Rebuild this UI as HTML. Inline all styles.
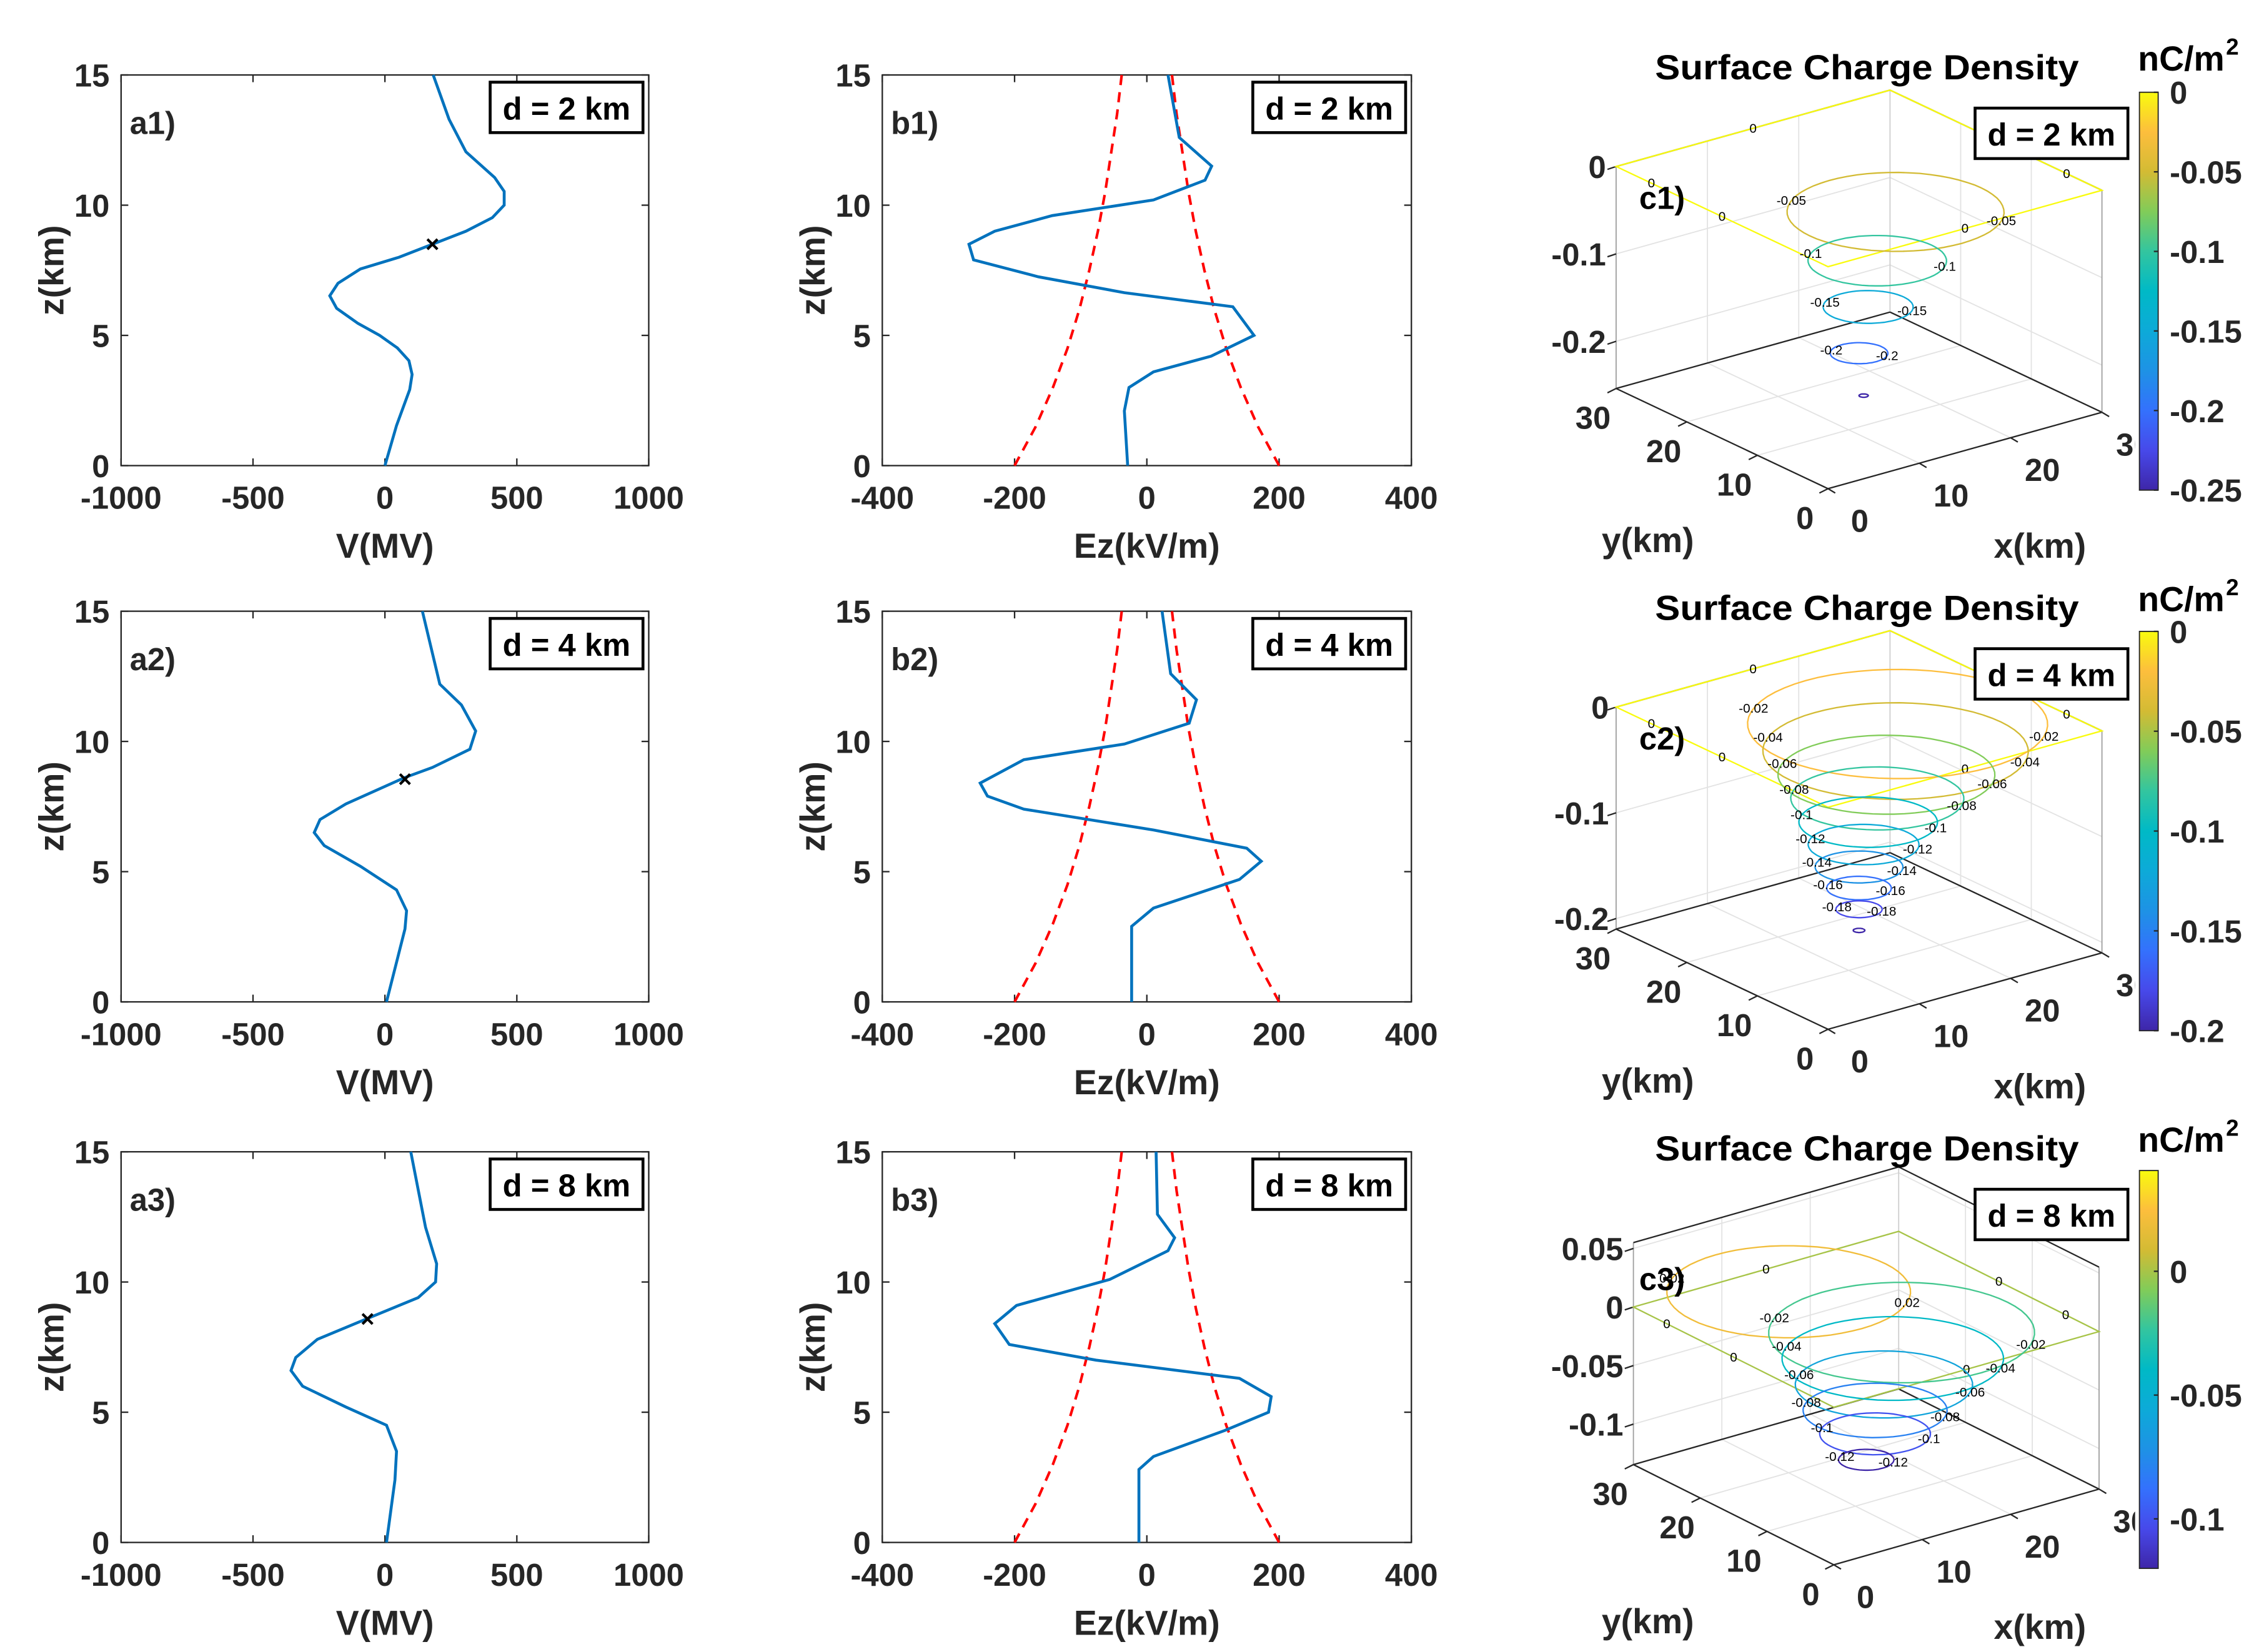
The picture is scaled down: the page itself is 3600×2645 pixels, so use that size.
<!DOCTYPE html>
<html><head><meta charset="utf-8"><style>
html,body{margin:0;padding:0;background:#fff;}
svg{display:block;}
text{font-family:"Liberation Sans",Arial,sans-serif;font-weight:bold;fill:#262626;}
</style></head><body>
<svg id="fig" width="3600" height="2645" viewBox="0 0 1560 1146" preserveAspectRatio="none" xmlns="http://www.w3.org/2000/svg">
<defs><clipPath id="cbclip"><rect x="0" y="0" width="1481" height="1146"/></clipPath></defs>
<rect x="0" y="0" width="1560" height="1146" fill="#fff"/>
</svg>
<script>
// ---------- data ----------
const a1Z=[15,13.3,12.05,11.06,10.53,10.0,9.52,9.0,8.5,8.0,7.55,7.0,6.52,6.04,5.46,5.0,4.52,4.03,3.5,2.92,1.54,0];
const a1V=[183,243,307,416,452,452,407,307,180,53,-93,-178,-209,-183,-102,-20,47,91,103,94,44,0];
const a2Z=[15,12.2,11.4,10.4,9.7,9.0,8.6,7.6,7.0,6.5,6.0,5.2,4.3,3.5,2.8,0];
const a2V=[142,208,290,344,322,180,72,-148,-246,-268,-230,-92,44,82,76,6];
const a3Z=[15,12.1,10.7,10.0,9.4,8.6,7.8,7.1,6.6,6.0,5.2,4.5,3.5,2.4,0];
const a3V=[98,154,196,192,126,-66,-256,-338,-356,-312,-148,6,44,38,6];
const markV=[180,76,-66];
const markZ=[8.5,8.55,8.58];
const b1Z=[15,12.6,11.5,10.96,10.2,9.6,9.0,8.5,7.9,7.25,6.64,6.1,5.0,4.2,3.6,3.0,2.1,0];
const b1E=[32,49,98,88,10,-143,-230,-269,-262,-164,-34,130,162,97,10,-27,-34,-29];
const b2Z=[15,12.6,11.6,10.7,9.9,9.3,8.4,7.9,7.4,6.6,5.9,5.4,4.7,3.6,2.9,0];
const b2E=[23,36,75,64,-34,-186,-252,-241,-186,10,151,173,140,10,-23,-23];
const b3Z=[15,12.6,11.7,11.2,10.1,9.1,8.4,7.6,7.0,6.3,5.6,5.0,4.3,3.3,2.8,0];
const b3E=[14,16,42,32,-56,-197,-230,-208,-77,140,188,184,118,10,-12,-12];
const redZ=[0,1.5,3,4.5,6,7.5,9,10.5,12,13.5,15];
const redE=[200,168,142,120,102,87,74,63,54,45,38];
const vTicks=[-1000,-500,0,500,1000];
const eTicks=[-400,-200,0,200,400];
const zTicks=[0,5,10,15];
const dLabels=["d = 2 km","d = 4 km","d = 8 km"];
// 3D contour data (level, radius km, centre x, centre y)
const c1Lev=[-0.05,-0.1,-0.15,-0.2,-0.25];
const c1R=[9.4,6,3.9,2.5,0.4];
const c1Cx=[19,17,16,15,15.5];
const c1Cy=[15,15,15,15,15];
const c2Lev=[-0.02,-0.04,-0.06,-0.08,-0.1,-0.12,-0.14,-0.16,-0.18,-0.2];
const c2R=[13,11.5,9.4,7.5,6,4.8,3.8,2.8,2,0.5];
const c2Cx=[20,19,18,17,16,15.5,15,15,15,15];
const c2Cy=[16,15,15,15,15,15,15,15,15,15];
const c3Lev=[0.02,-0.02,-0.04,-0.06,-0.08,-0.1,-0.12];
const c3R=[11,12,10,8,6.5,5,2.5];
const c3Cx=[10,19,18,17,16,16,15];
const c3Cy=[20,15,15,15,15,15,15];
const c1ZT=[0,-0.1,-0.2], c2ZT=[0,-0.1,-0.2], c3ZT=[0.05,0,-0.05,-0.1];
const c1CB=[0,-0.05,-0.1,-0.15,-0.2,-0.25], c2CB=[0,-0.05,-0.1,-0.15,-0.2], c3CB=[0,-0.05,-0.1];
const hTicks=[0,10,20,30];

const svg=document.getElementById('fig');
const NS='http://www.w3.org/2000/svg';
function mk(tag,attrs,parent,text){const e=document.createElementNS(NS,tag);for(const k in attrs)e.setAttribute(k,attrs[k]);if(text!==undefined)e.textContent=text;(parent||svg).appendChild(e);return e;}

function draw2D(o){
  const g=mk('g',{});
  
  
  const X=v=>o.x0+(v-o.xmin)/(o.xmax-o.xmin)*(o.x1-o.x0);
  const Y=z=>o.y1-z/15*(o.y1-o.y0);
  const box=mk('rect',{x:o.x0,y:o.y0,width:o.x1-o.x0,height:o.y1-o.y0,fill:'none',stroke:'#262626','stroke-width':1},g);
  
  
  o.xticks.forEach(t=>{
    const x=X(t);
    mk('line',{x1:x,y1:o.y1,x2:x,y2:o.y1-5,stroke:'#262626'},g);
    mk('line',{x1:x,y1:o.y0,x2:x,y2:o.y0+5,stroke:'#262626'},g);
    const tl=mk('text',{x:x,y:o.y1+30,'text-anchor':'middle','font-size':22},g,String(t));
    
    
  });
  zTicks.forEach(t=>{
    const y=Y(t);
    mk('line',{x1:o.x0,y1:y,x2:o.x0+5,y2:y,stroke:'#262626'},g);
    mk('line',{x1:o.x1,y1:y,x2:o.x1-5,y2:y,stroke:'#262626'},g);
    const tl=mk('text',{x:o.x0-8,y:y+8,'text-anchor':'end','font-size':22},g,String(t));
    
    
  });
  const xl=mk('text',{x:(o.x0+o.x1)/2,y:o.y1+64,'text-anchor':'middle','font-size':24},g,o.xlabel);
  
  
  const yx=o.x0-40, yc=(o.y0+o.y1)/2;
  const yl=mk('text',{x:yx,y:yc,'text-anchor':'middle','font-size':24,transform:'rotate(-90 '+yx+' '+yc+')'},g,'z(km)');
  
  
  const pl=mk('text',{x:o.x0+6,y:o.y0+41,'font-size':22},g,o.label);
  
  
  const lr=mk('rect',{x:o.x1-110,y:o.y0+5,width:106,height:35,fill:'#fff',stroke:'#000','stroke-width':2},g);
  
  
  const lt=mk('text',{x:o.x1-57,y:o.y0+31,'text-anchor':'middle','font-size':22,style:'fill:#000'},g,o.legend);
  
  
  return {g,X,Y};
}
function poly(p,xs,zs,attrs,name){
  const pts=xs.map((v,i)=>p.X(v).toFixed(2)+','+p.Y(zs[i]).toFixed(2)).join(' ');
  const a=Object.assign({points:pts,fill:'none'},attrs);
  const e=mk('polyline',a,p.g);
  
  
  return e;
}
const rowOff=[0,372,747];
const aV=[a1V,a2V,a3V], aZ=[a1Z,a2Z,a3Z], bE=[b1E,b2E,b3E], bZ=[b1Z,b2Z,b3Z];
for(let r=0;r<3;r++){
  const off=rowOff[r];
  const pa=draw2D({name:'a'+(r+1),x0:84,x1:450,y0:52+off,y1:323+off,xmin:-1000,xmax:1000,xticks:vTicks,xlabel:'V(MV)',label:'a'+(r+1)+')',legend:dLabels[r]});
  poly(pa,aV[r],aZ[r],{stroke:'#0072BD','stroke-width':2},'potential-line');
  const mx=pa.X(markV[r]), my=pa.Y(markZ[r]);
  const m=mk('path',{d:`M${mx-3.5},${my-3.5}L${mx+3.5},${my+3.5}M${mx-3.5},${my+3.5}L${mx+3.5},${my-3.5}`,stroke:'#000','stroke-width':1.8},pa.g);
  
  
  const pb=draw2D({name:'b'+(r+1),x0:612,x1:979,y0:52+off,y1:323+off,xmin:-400,xmax:400,xticks:eTicks,xlabel:'Ez(kV/m)',label:'b'+(r+1)+')',legend:dLabels[r]});
  poly(pb,redE,redZ,{stroke:'#FF0000','stroke-width':1.8,'stroke-dasharray':'7,5'},'threshold-positive');
  poly(pb,redE.map(v=>-v),redZ,{stroke:'#FF0000','stroke-width':1.8,'stroke-dasharray':'7,5'},'threshold-negative');
  poly(pb,bE[r],bZ[r],{stroke:'#0072BD','stroke-width':2},'field-line');
}

// ---------- parula ----------
const pStops=[[0,[62,38,168]],[0.1,[71,73,234]],[0.2,[52,113,253]],[0.3,[30,146,229]],[0.4,[13,170,216]],[0.5,[0,185,198]],[0.6,[51,197,159]],[0.7,[129,204,89]],[0.8,[211,187,52]],[0.9,[253,190,61]],[1,[249,251,14]]];
function parula(t){t=Math.max(0,Math.min(1,t));for(let i=1;i<pStops.length;i++){if(t<=pStops[i][0]){const[a,ca]=pStops[i-1],[b,cb]=pStops[i];const f=(t-a)/(b-a);return 'rgb('+ca.map((c,k)=>Math.round(c+(cb[k]-c)*f)).join(',')+')';}}return 'rgb(249,251,14)';}
const grad=mk('linearGradient',{id:'parulaGrad',x1:0,y1:1,x2:0,y2:0},svg.querySelector('defs'));
pStops.forEach(s=>mk('stop',{offset:s[0],'stop-color':'rgb('+s[1].join(',')+')'},grad));

// ---------- 3D panels ----------
const cfgs=[
 {n:'c1',off:0,Ox:1268,Oy:339,Xv:[190,-53],Yv:[-147,-69.5],H:154,zmin:-0.254,zmax:0,zt:c1ZT,lev:c1Lev,R:c1R,Cx:c1Cx,Cy:c1Cy,cmin:-0.25,cmax:0,cb:c1CB,cbTop:64,cbBot:340,zlx:1114,zeroZ:0},
 {n:'c2',off:375,Ox:1268,Oy:714,Xv:[190,-53],Yv:[-147,-69.5],H:154,zmin:-0.21,zmax:0,zt:c2ZT,lev:c2Lev,R:c2R,Cx:c2Cx,Cy:c2Cy,cmin:-0.2,cmax:0,cb:c2CB,cbTop:438,cbBot:715,zlx:1116,zeroZ:0},
 {n:'c3',off:750,Ox:1272,Oy:1085.5,Xv:[184,-52.5],Yv:[-139,-69.5],H:154,zmin:-0.1346,zmax:0.055,zt:c3ZT,lev:c3Lev,R:c3R,Cx:c3Cx,Cy:c3Cy,cmin:-0.12,cmax:0.0407,cb:c3CB,cbTop:812,cbBot:1088,zlx:1126,zeroZ:0}
];
cfgs.forEach((c,ci)=>{
  const g=mk('g',{});
  
  
  const P=(x,y,z)=>[c.Ox+x/30*c.Xv[0]+y/30*c.Yv[0], c.Oy+x/30*c.Xv[1]+y/30*c.Yv[1]-(z-c.zmin)/(c.zmax-c.zmin)*c.H];
  const L=(a,b,st,w)=>mk('line',{x1:a[0],y1:a[1],x2:b[0],y2:b[1],stroke:st,'stroke-width':w||0.8},g);
  [10,20].forEach(v=>{
    L(P(v,0,c.zmin),P(v,30,c.zmin),'#e3e3e3');
    L(P(0,v,c.zmin),P(30,v,c.zmin),'#e3e3e3');
    L(P(v,30,c.zmin),P(v,30,c.zmax),'#e3e3e3');
    L(P(30,v,c.zmin),P(30,v,c.zmax),'#e3e3e3');
  });
  c.zt.forEach(z=>{
    L(P(0,30,z),P(30,30,z),'#e3e3e3');
    L(P(30,30,z),P(30,0,z),'#e3e3e3');
  });
  L(P(30,30,c.zmin),P(30,30,c.zmax),'#cfcfcf');
  L(P(0,30,c.zmin),P(0,30,c.zmax),'#a0a0a0');
  L(P(30,0,c.zmin),P(30,0,c.zmax),'#a0a0a0');
  L(P(0,30,c.zmin),P(0,0,c.zmin),'#262626',1);
  L(P(0,0,c.zmin),P(30,0,c.zmin),'#262626',1);
  L(P(0,30,c.zmin),P(30,30,c.zmin),'#262626',1);
  L(P(30,30,c.zmin),P(30,0,c.zmin),'#262626',1);
  L(P(0,30,c.zmax),P(30,30,c.zmax),'#262626',1);
  L(P(30,30,c.zmax),P(30,0,c.zmax),'#262626',1);
  c.zt.forEach(z=>{
    const p=P(0,30,z);
    L(p,[p[0]-6,p[1]+2],'#262626',1);
    const t=mk('text',{x:c.zlx,y:p[1]+8,'text-anchor':'end','font-size':22},g,String(z));
    
    
  });
  hTicks.forEach(v=>{
    const py=P(0,v,c.zmin);
    L(py,[py[0]-6,py[1]+3],'#262626',1);
    const t=mk('text',{x:py[0]-16,y:py[1]+28,'text-anchor':'middle','font-size':22},g,String(v));
    
    
    const px=P(v,0,c.zmin);
    L(px,[px[0]+5,px[1]+3],'#262626',1);
    const t2=mk('text',{x:px[0]+22,y:px[1]+30,'text-anchor':'middle','font-size':22,'clip-path':'url(#cbclip)'},g,String(v));
    
    
  });
  const sq=[P(0,0,c.zeroZ),P(30,0,c.zeroZ),P(30,30,c.zeroZ),P(0,30,c.zeroZ)];
  const s=mk('path',{d:'M'+sq.map(p=>p[0].toFixed(1)+','+p[1].toFixed(1)).join('L')+'Z',fill:'none',stroke:parula((0-c.cmin)/(c.cmax-c.cmin)),'stroke-width':1},g);
  
  
  [[0,15],[15,0],[30,15],[15,30],[30,5],[0,25]].forEach(q=>{
    const p=P(q[0],q[1],c.zeroZ);
    const t=mk('text',{x:p[0],y:p[1]+3,'text-anchor':'middle','font-size':9,style:'font-weight:normal;fill:#000'},g,'0');
    
    
  });
  c.lev.forEach((lv,i)=>{
    const pts=[];
    for(let k=0;k<=64;k++){const th=k/64*2*Math.PI;pts.push(P(c.Cx[i]+c.R[i]*Math.cos(th),c.Cy[i]+c.R[i]*Math.sin(th),lv));}
    const e=mk('path',{d:'M'+pts.map(p=>p[0].toFixed(1)+','+p[1].toFixed(1)).join('L'),fill:'none',stroke:parula((lv-c.cmin)/(c.cmax-c.cmin)),'stroke-width':1},g);
    
    
    if(c.R[i]>1){
      [2.2,5.4].forEach(th=>{
        const p=P(c.Cx[i]+c.R[i]*Math.cos(th),c.Cy[i]+c.R[i]*Math.sin(th),lv);
        const t=mk('text',{x:p[0],y:p[1]+3,'text-anchor':'middle','font-size':9,style:'font-weight:normal;fill:#000'},g,String(lv));
        
        
      });
    }
  });
  const off=c.off;
  const ti=mk('text',{x:1295,y:55+off,'text-anchor':'middle','font-size':24,textLength:294,lengthAdjust:'spacingAndGlyphs',style:'fill:#000'},g,'Surface Charge Density');
  
  
  const yl=mk('text',{x:1143,y:383+off,'text-anchor':'middle','font-size':24},g,'y(km)');
  
  
  const xl=mk('text',{x:1415,y:387+off,'text-anchor':'middle','font-size':24},g,'x(km)');
  
  
  const pl=mk('text',{x:1137,y:145+off,'font-size':22,style:'fill:#000'},g,c.n+')');
  
  
  const lr=mk('rect',{x:1370,y:75+off,width:106,height:35,fill:'#fff',stroke:'#000','stroke-width':2},g);
  
  
  const lt=mk('text',{x:1423,y:101+off,'text-anchor':'middle','font-size':22,style:'fill:#000'},g,dLabels[ci]);
  
  
  const cb=mk('rect',{x:1484,y:c.cbTop,width:13,height:c.cbBot-c.cbTop,fill:'url(#parulaGrad)',stroke:'#262626','stroke-width':0.8},g);
  
  
  c.cb.forEach(v=>{
    const y=c.cbBot-(v-c.cmin)/(c.cmax-c.cmin)*(c.cbBot-c.cbTop);
    L([1494,y],[1497,y],'#262626',1);
    const t=mk('text',{x:1505,y:y+8,'font-size':22},g,String(v));
    
    
  });
  const u=mk('text',{x:1483,y:49+off,'font-size':24,textLength:60,lengthAdjust:'spacingAndGlyphs',style:'fill:#000'},g,'nC/m');
  
  
  const u2=mk('text',{x:1544,y:38+off,'font-size':16,style:'fill:#000'},g,'2');
  
  
});
</script>
</body></html>
